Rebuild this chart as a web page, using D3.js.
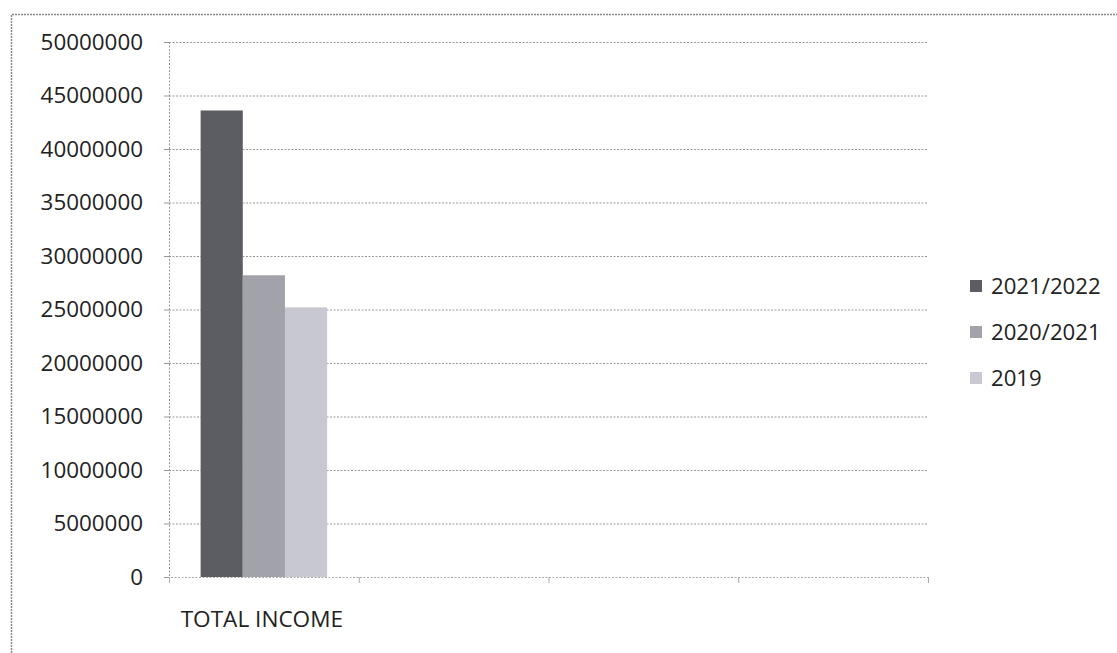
<!DOCTYPE html>
<html><head><meta charset="utf-8">
<script src="https://cdn.jsdelivr.net/npm/d3@7"></script>
<style>
html,body{margin:0;padding:0;background:#fff;}
text{font-family:"Open Sans",sans-serif;fill:#222;}
</style></head>
<body>
<svg id="chart" width="1117" height="653"></svg>
<script>
const categories = ["TOTAL INCOME", "", "", ""];
const seriesNames = ["2021/2022", "2020/2021", "2019"];
const values2122 = [43600000, null, null, null];
const values2021 = [28200000, null, null, null];
const values2019 = [25200000, null, null, null];
const yTicks = [0,5000000,10000000,15000000,20000000,25000000,30000000,35000000,40000000,45000000,50000000];
const colors = ["#5c5c63", "#a2a2aa", "#c8c8d0"];

const series = [values2122, values2021, values2019];
const svg = d3.select("#chart");
const m = {left:169, right:928, top:42, bottom:577};

// outer frame (left and top edges)
svg.append("path").attr("d","M11.5,653 V14.5 H1117").attr("fill","none")
  .attr("stroke","#888").attr("stroke-width",1.5).attr("stroke-dasharray","2,1");

const x = d3.scaleBand().domain(d3.range(categories.length)).range([m.left, m.right]).padding(0);
const y = d3.scaleLinear().domain([0,50000000]).range([m.bottom, m.top]);
const xs = d3.scaleBand().domain(d3.range(series.length)).range([0, x.bandwidth()]).paddingOuter(0.75).paddingInner(0);

// gridlines
svg.append("g").selectAll("line").data(yTicks.filter(d=>d>0)).join("line")
  .attr("x1",m.left).attr("x2",m.right).attr("y1",d=>y(d)+0.5).attr("y2",d=>y(d)+0.5)
  .attr("stroke","#999").attr("stroke-width",1).attr("stroke-dasharray","2,1.5");

// bars
series.forEach((vals,si)=>{
  svg.append("g").selectAll("rect").data(vals.map((v,i)=>({v,i})).filter(d=>d.v!=null)).join("rect")
    .attr("x",d=>x(d.i)+xs(si)).attr("width",xs.bandwidth())
    .attr("y",d=>y(d.v)).attr("height",d=>y(0)-y(d.v))
    .attr("fill",colors[si]);
});

// y axis
const yAxis = d3.axisLeft(y).tickValues(yTicks).tickSize(5).tickPadding(21).tickFormat(d3.format("d"));
const gy = svg.append("g").attr("transform",`translate(${m.left},0)`).call(yAxis);
gy.select(".domain").attr("stroke","#999").attr("stroke-dasharray","2,1.5");
gy.selectAll(".tick line").attr("stroke","#999");
gy.selectAll("text").style("font-size","22.4px").attr("fill","#222").attr("font-family","Open Sans");

// x axis
const xAxis = d3.axisBottom(d3.scaleLinear().domain([0,categories.length]).range([m.left,m.right]))
  .tickValues(d3.range(categories.length+1)).tickSize(6).tickFormat("");
const gx = svg.append("g").attr("transform",`translate(0,${m.bottom})`).call(xAxis);
gx.select(".domain").attr("stroke","#aaa").attr("stroke-dasharray","2,1.5");
gx.selectAll(".tick line").attr("stroke","#aaa");
svg.append("g").selectAll("text").data(categories).join("text")
  .attr("x",(d,i)=>x(i)+x.bandwidth()/2 - 2).attr("y",627)
  .attr("text-anchor","middle").style("font-size","22.6px").text(d=>d);

// legend
const lg = svg.append("g");
seriesNames.forEach((n,i)=>{
  const cy = 286 + i*46;
  lg.append("rect").attr("x",970).attr("y",cy-6).attr("width",12).attr("height",12).attr("fill",colors[i]);
  lg.append("text").attr("x",991).attr("y",cy+8).style("font-size","22.2px").text(n);
});
</script>
</body></html>
